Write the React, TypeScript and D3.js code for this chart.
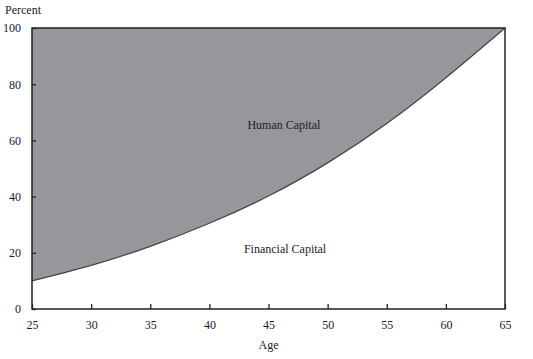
import * as d3 from "d3";
import { useEffect, useRef } from "react";

// ages and financial capital share (percent)
const ages = [25, 30, 35, 40, 45, 50, 55, 60, 65];
const financialShare = [10, 15.5, 22.3, 30.5, 40.2, 52, 66, 82.3, 100];
const xTicks = [25, 30, 35, 40, 45, 50, 55, 60, 65];
const yTicks = [0, 20, 40, 60, 80, 100];

const App = () => {
  const svgRef = useRef<SVGSVGElement | null>(null);

  useEffect(() => {
    if (!svgRef.current) return;
    const width = 533;
    const height = 359;
    const margin = { top: 28, right: 28, bottom: 50, left: 32 };
    const font = "'Liberation Serif', 'Times New Roman', serif";

    const data = ages.map((a, i) => ({ age: a, value: financialShare[i] }));

    const x = d3
      .scaleLinear()
      .domain([25, 65])
      .range([margin.left, width - margin.right]);
    const y = d3
      .scaleLinear()
      .domain([0, 100])
      .range([height - margin.bottom, margin.top]);

    const svg = d3.select(svgRef.current);
    svg.selectAll("*").remove();

    // human capital = area above the curve
    const area = d3
      .area<{ age: number; value: number }>()
      .x((d) => x(d.age))
      .y0(y(100))
      .y1((d) => y(d.value))
      .curve(d3.curveNatural);

    svg
      .append("path")
      .datum(data)
      .attr("fill", "#97979b")
      .attr("d", area);

    const line = d3
      .line<{ age: number; value: number }>()
      .x((d) => x(d.age))
      .y((d) => y(d.value))
      .curve(d3.curveNatural);

    svg
      .append("path")
      .datum(data)
      .attr("fill", "none")
      .attr("stroke", "#444")
      .attr("stroke-width", 1.2)
      .attr("d", line);

    // frame
    svg
      .append("rect")
      .attr("x", x(25))
      .attr("y", y(100))
      .attr("width", x(65) - x(25))
      .attr("height", y(0) - y(100))
      .attr("fill", "none")
      .attr("stroke", "#222")
      .attr("stroke-width", 1.5);

    // axes
    const xAxis = svg
      .append("g")
      .attr("transform", `translate(0,${y(0)})`)
      .call(
        d3
          .axisBottom(x)
          .tickValues(xTicks)
          .tickSizeInner(-5)
          .tickSizeOuter(0)
          .tickPadding(11)
      );
    xAxis.select(".domain").remove();

    const yAxis = svg
      .append("g")
      .attr("transform", `translate(${x(25)},0)`)
      .call(
        d3
          .axisLeft(y)
          .tickValues(yTicks)
          .tickSizeInner(-4)
          .tickSizeOuter(0)
          .tickPadding(11)
      );
    yAxis.select(".domain").remove();

    svg
      .selectAll(".tick line")
      .attr("stroke", "#222")
      .attr("stroke-width", 1.3);
    svg
      .selectAll(".tick text")
      .attr("fill", "#1a1a2e")
      .style("font-family", font)
      .style("font-size", "12px");

    const label = (tx: number, ty: number, s: string, anchor = "middle") =>
      svg
        .append("text")
        .attr("x", tx)
        .attr("y", ty)
        .attr("text-anchor", anchor)
        .attr("fill", "#1a1a2e")
        .style("font-family", font)
        .style("font-size", "12px")
        .text(s);

    label(5, 14, "Percent", "start");
    label(x(45), 349, "Age");
    label(x(46.3), 129, "Human Capital");
    label(x(46.4), 253, "Financial Capital");
  }, []);

  return (
    <svg
      ref={svgRef}
      width={533}
      height={359}
      style={{ position: "absolute", left: 0, top: 0, background: "#fff" }}
    ></svg>
  );
};

export default App;
